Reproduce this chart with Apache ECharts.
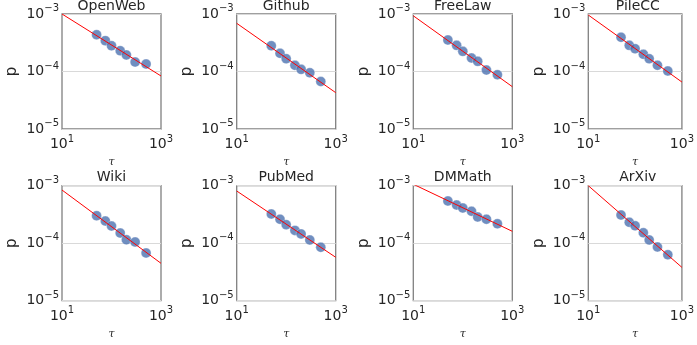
<!DOCTYPE html>
<html>
<head>
<meta charset="utf-8">
<script src="https://cdn.jsdelivr.net/npm/echarts@6/dist/echarts.min.js"></script>
<style>
html,body{margin:0;padding:0;background:#fff;}
#chart{width:697px;height:345px;}
</style>
</head>
<body>
<div id="chart"></div>
<script>
// ---- data ----
const panelNames = ['OpenWeb', 'Github', 'FreeLaw', 'PileCC', 'Wiki', 'PubMed', 'DMMath', 'ArXiv'];
const tau = [50, 75, 100, 150, 200, 300, 500];
const openWebP = [4.37e-4, 3.44e-4, 2.81e-4, 2.30e-4, 1.94e-4, 1.46e-4, 1.35e-4];
const githubP  = [2.81e-4, 2.07e-4, 1.67e-4, 1.28e-4, 1.09e-4, 9.5e-5, 6.7e-5];
const freeLawP = [3.53e-4, 2.85e-4, 2.24e-4, 1.72e-4, 1.50e-4, 1.06e-4, 8.8e-5];
const pileCCP  = [3.94e-4, 2.85e-4, 2.49e-4, 1.99e-4, 1.67e-4, 1.28e-4, 1.02e-4];
const wikiP    = [3.01e-4, 2.43e-4, 1.99e-4, 1.50e-4, 1.15e-4, 1.05e-4, 6.76e-5];
const pubMedP  = [3.22e-4, 2.61e-4, 2.10e-4, 1.67e-4, 1.45e-4, 1.14e-4, 8.5e-5];
const dmMathP  = [5.42e-4, 4.61e-4, 4.09e-4, 3.59e-4, 2.86e-4, 2.61e-4, 2.18e-4];
const arXivP   = [3.09e-4, 2.31e-4, 2.01e-4, 1.52e-4, 1.14e-4, 8.6e-5, 6.3e-5];
// fitted power-law line, p at tau = 10 and tau = 1000
const fitTau = [10, 1000];
const openWebFit = [1.0e-3, 8.36e-5];
const githubFit  = [6.89e-4, 4.29e-5];
const freeLawFit = [9.3e-4, 5.45e-5];
const pileCCFit  = [9.6e-4, 6.56e-5];
const wikiFit    = [8.41e-4, 4.47e-5];
const pubMedFit  = [8.09e-4, 5.69e-5];
const dmMathFit  = [1.06e-3, 1.61e-4];
const arXivFit   = [1.0e-3, 3.8e-5];
const xTicks = [10, 1000];
const yTicks = [1e-5, 1e-4, 1e-3];

const panelP = [openWebP, githubP, freeLawP, pileCCP, wikiP, pubMedP, dmMathP, arXivP];
const panelFit = [openWebFit, githubFit, freeLawFit, pileCCFit, wikiFit, pubMedFit, dmMathFit, arXivFit];

// ---- layout ----
const lefts = [62, 236.7, 413.3, 588.3];
const tops = [14, 185.7];
const gw = 99, gh = 115;
const txt = '#262626';

function supLabel(v) {
  const e = Math.round(Math.log10(v));
  const es = e < 0 ? '\u2212' + (-e) : String(e);
  return '{b|10}{s|' + es + '}';
}
const rich = {
  b: {fontSize: 14, color: txt, fontFamily: 'DejaVu Sans'},
  s: {fontSize: 10, color: txt, fontFamily: 'DejaVu Sans', padding: [0, 0, 11, 0]}
};

const grids = [], xAxes = [], yAxes = [], series = [], titles = [];
panelNames.forEach((name, i) => {
  const c = i % 4, r = Math.floor(i / 4);
  grids.push({left: lefts[c], top: tops[r], width: gw, height: gh, show: true,
    borderColor: '#808080', borderWidth: 1.3, backgroundColor: 'transparent'});
  titles.push({text: name, left: lefts[c] + gw / 2, top: tops[r] - 15, textAlign: 'center', padding: 0,
    textStyle: {fontSize: 14, fontWeight: 'normal', color: txt, fontFamily: 'DejaVu Sans'}});
  xAxes.push({type: 'log', logBase: 10, gridIndex: i, min: 10, max: 1000,
    name: '\u03c4', nameLocation: 'middle', nameGap: 28,
    nameTextStyle: {fontSize: 11, fontStyle: 'italic', fontFamily: 'DejaVu Serif', color: txt},
    axisLine: {show: false}, axisTick: {show: false}, splitLine: {show: false},
    axisLabel: {margin: 5, rich: rich, formatter: v => xTicks.some(t => Math.abs(t - v) / t < 1e-6) ? supLabel(v) : ''}});
  yAxes.push({type: 'log', logBase: 10, gridIndex: i, min: 1e-5, max: 1e-3,
    name: 'p', nameLocation: 'middle', nameGap: 42,
    nameTextStyle: {fontSize: 15, color: txt, fontFamily: 'DejaVu Sans'},
    axisLine: {show: false}, axisTick: {show: false},
    splitLine: {show: true, lineStyle: {color: '#d9d9d9', width: 1}},
    axisLabel: {margin: 3, rich: rich, formatter: v => yTicks.some(t => Math.abs(t - v) / t < 1e-6) ? supLabel(v) : ''}});
  series.push({type: 'scatter', xAxisIndex: i, yAxisIndex: i, symbolSize: 10,
    itemStyle: {color: '#4c72b0', borderColor: '#ffffff', borderWidth: 0.4},
    data: tau.map((t, j) => [t, panelP[i][j]]), z: 2});
  series.push({type: 'line', xAxisIndex: i, yAxisIndex: i, symbol: 'none', clip: true,
    lineStyle: {color: '#ff0000', width: 1}, data: fitTau.map((t, j) => [t, panelFit[i][j]]), z: 3});
});

const chart = echarts.init(document.getElementById('chart'), null, {renderer: 'canvas'});
chart.setOption({animation: false, backgroundColor: '#fff', title: titles, grid: grids,
  xAxis: xAxes, yAxis: yAxes, series: series});
</script>
</body>
</html>
